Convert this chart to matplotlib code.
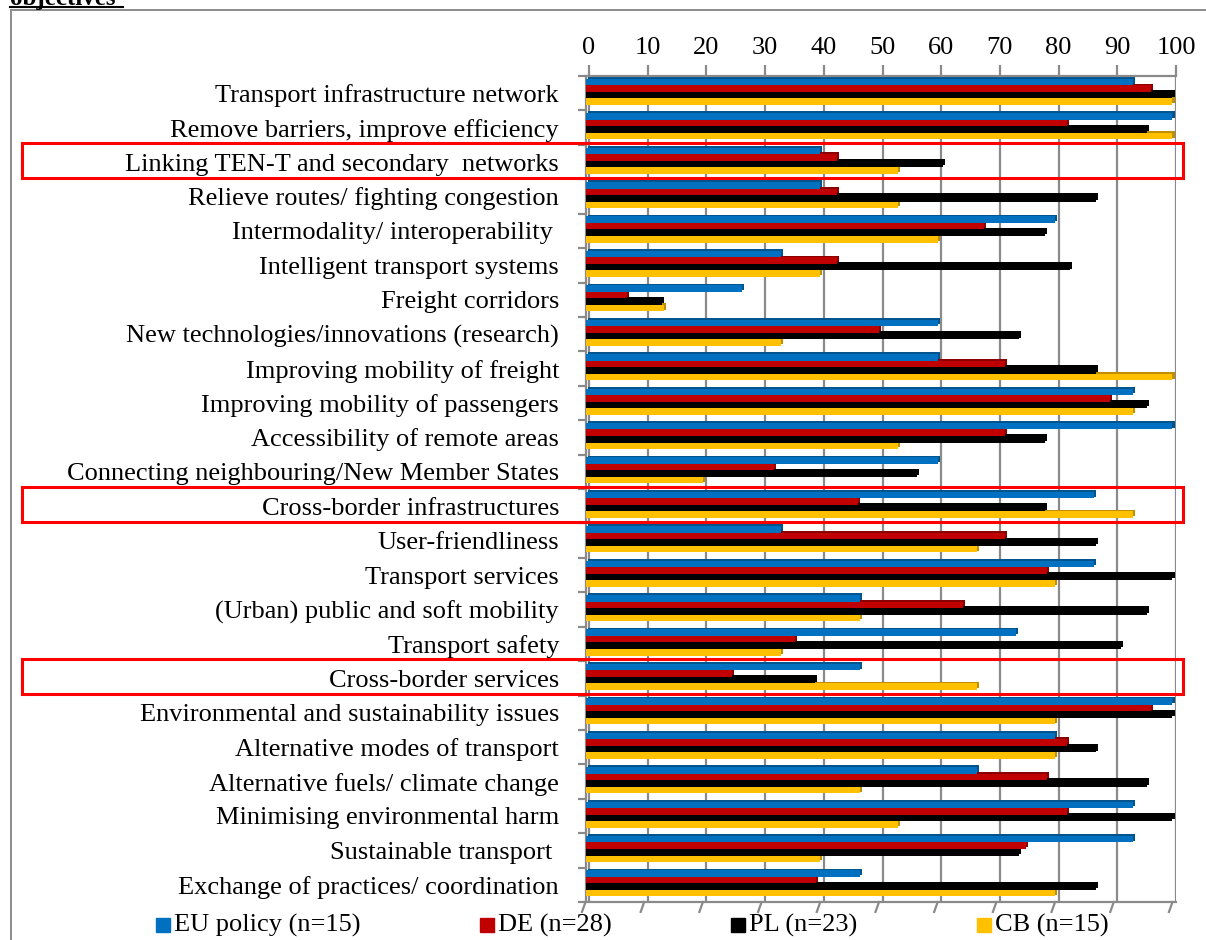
import numpy as np
import matplotlib
matplotlib.use("Agg")
import matplotlib.pyplot as plt
from matplotlib.patches import Rectangle
from matplotlib.lines import Line2D
import matplotlib.transforms as mtransforms

categories = [
    "Transport infrastructure network",
    "Remove barriers, improve efficiency",
    "Linking TEN-T and secondary  networks",
    "Relieve routes/ fighting congestion",
    "Intermodality/ interoperability ",
    "Intelligent transport systems",
    "Freight corridors",
    "New technologies/innovations (research)",
    "Improving mobility of freight",
    "Improving mobility of passengers",
    "Accessibility of remote areas",
    "Connecting neighbouring/New Member States",
    "Cross-border infrastructures",
    "User-friendliness",
    "Transport services",
    "(Urban) public and soft mobility",
    "Transport safety",
    "Cross-border services",
    "Environmental and sustainability issues",
    "Alternative modes of transport",
    "Alternative fuels/ climate change",
    "Minimising environmental harm",
    "Sustainable transport ",
    "Exchange of practices/ coordination",
]

eu_policy = [93.3, 100, 40, 40, 80, 33.3, 26.7, 60, 60, 93.3, 100, 60,
             86.7, 33.3, 86.7, 46.7, 73.3, 46.7, 100, 80, 66.7, 93.3, 93.3, 46.7]
de = [96.4, 82.1, 42.9, 42.9, 67.9, 42.9, 7.1, 50.0, 71.4, 89.3, 71.4, 32.1,
      46.4, 71.4, 78.6, 64.3, 35.7, 25.0, 96.4, 82.1, 78.6, 82.1, 75.0, 39.3]
pl = [100, 95.7, 60.9, 87.0, 78.3, 82.6, 13.0, 73.9, 87.0, 95.7, 78.3, 56.5,
      78.3, 87.0, 100, 95.7, 91.3, 39.1, 100, 87.0, 95.7, 100, 73.9, 87.0]
cb = [100, 100, 53.3, 53.3, 60, 40, 13.3, 33.3, 100, 93.3, 53.3, 20,
      93.3, 66.7, 80, 46.7, 33.3, 66.7, 80, 80, 46.7, 53.3, 40, 80]

series_labels = ["EU policy (n=15)", "DE (n=28)", "PL (n=23)", "CB (n=15)"]
x_ticks = list(range(0, 101, 10))
highlighted = ["Linking TEN-T and secondary  networks",
               "Cross-border infrastructures",
               "Cross-border services"]

face_colors = ["#0070C0", "#C00000", "#000000", "#FFC000"]
side_colors = ["#00558f", "#8a0000", "#000000", "#c08f00"]

plt.rcParams["font.family"] = ["Liberation Serif", "DejaVu Serif"]
FS = 19

W, H = 1206, 940
fig = plt.figure(figsize=(W / 100, H / 100), dpi=100)

left_px, right_px, top_px, bottom_px = 585.5, 1176, 76, 902
ax = fig.add_axes([left_px / W, 1 - bottom_px / H,
                   (right_px - left_px) / W, (bottom_px - top_px) / H])

n = len(categories)
y = np.arange(n)
bar_h = 0.19
offsets = np.array([-1.5, -0.5, 0.5, 1.5]) * bar_h - 0.04
all_series = [eu_policy, de, pl, cb]

# the back wall sits slightly behind the bars (3-D look)
depth = 0.6
grid_pos = [v + depth for v in x_ticks]

grid_color = "#8a8a8a"
for gx in grid_pos:
    ax.axvline(gx, color=grid_color, lw=1.6, zorder=0)

for vals, off, fc, sc in zip(all_series, offsets, face_colors, side_colors):
    vals = np.asarray(vals)
    # darker top/side faces give the bars a slight depth
    ax.barh(y + off - 0.05, vals, height=bar_h, left=0.35,
            color=sc, edgecolor="none", zorder=2)
    ax.barh(y + off, vals, height=bar_h, color=fc, edgecolor="none", zorder=3)

ax.set_xlim(0, 100 + depth)
ax.set_ylim(n - 0.5, -0.5)

ax.xaxis.set_ticks_position("top")
ax.set_xticks(grid_pos)
ax.set_xticklabels([str(v) for v in x_ticks], fontsize=FS)
ax.tick_params(axis="x", which="major", direction="out", length=8,
               width=1.6, color=grid_color, pad=4)

ax.set_yticks(y)
ax.set_yticklabels(categories, fontsize=FS)
ax.tick_params(axis="y", which="major", length=0, pad=19)
ax.set_yticks(np.arange(n + 1) - 0.5, minor=True)
ax.tick_params(axis="y", which="minor", direction="out", length=6,
               width=1.6, color=grid_color)

for side in ["left", "top", "bottom", "right"]:
    ax.spines[side].set_color(grid_color)
    ax.spines[side].set_linewidth(1.6)
ax.spines["right"].set_visible(False)

# slanted floor ticks along the bottom edge
floor = mtransforms.blended_transform_factory(ax.transData, ax.transAxes)
for xv in x_ticks:
    ax.add_line(Line2D([xv - 0.6, xv], [-0.012, 0.0], transform=floor,
                       color=grid_color, lw=1.6, clip_on=False))

ax.set_facecolor("white")

# red frames around highlighted rows
box_tr = mtransforms.blended_transform_factory(fig.transFigure, ax.transData)
for name in highlighted:
    i = categories.index(name)
    fig.patches.append(Rectangle((22 / W, i - 0.56), (1183 - 22) / W, 1.02,
                                 transform=box_tr, fill=False,
                                 edgecolor="#FF0000", lw=2.2, zorder=10))

# outer frame
frame_color = "#8c8c8c"
fig.add_artist(Line2D([10.5 / W, 10.5 / W], [0, 1 - 10 / H], color=frame_color, lw=1.4))
fig.add_artist(Line2D([10.5 / W, 1], [1 - 10 / H, 1 - 10 / H], color=frame_color, lw=1.4))

# heading (partly outside the page)
fig.text(10 / W, 1 - 4.5 / H, "objectives", fontsize=18, fontweight="bold",
         ha="left", va="baseline")
fig.add_artist(Line2D([10 / W, 123 / W], [1 - 6.5 / H, 1 - 6.5 / H],
                      color="black", lw=1.5))

# legend
legend_x = [156, 480, 731, 977]
legend_y = 925
for lx, lab, fc in zip(legend_x, series_labels, face_colors):
    fig.patches.append(Rectangle((lx / W, 1 - (legend_y + 7) / H), 14 / W, 14 / H,
                                 transform=fig.transFigure, color=fc))
    fig.text((lx + 18) / W, 1 - legend_y / H, lab, fontsize=FS,
             ha="left", va="center")

fig.savefig("out.png", dpi=100)
